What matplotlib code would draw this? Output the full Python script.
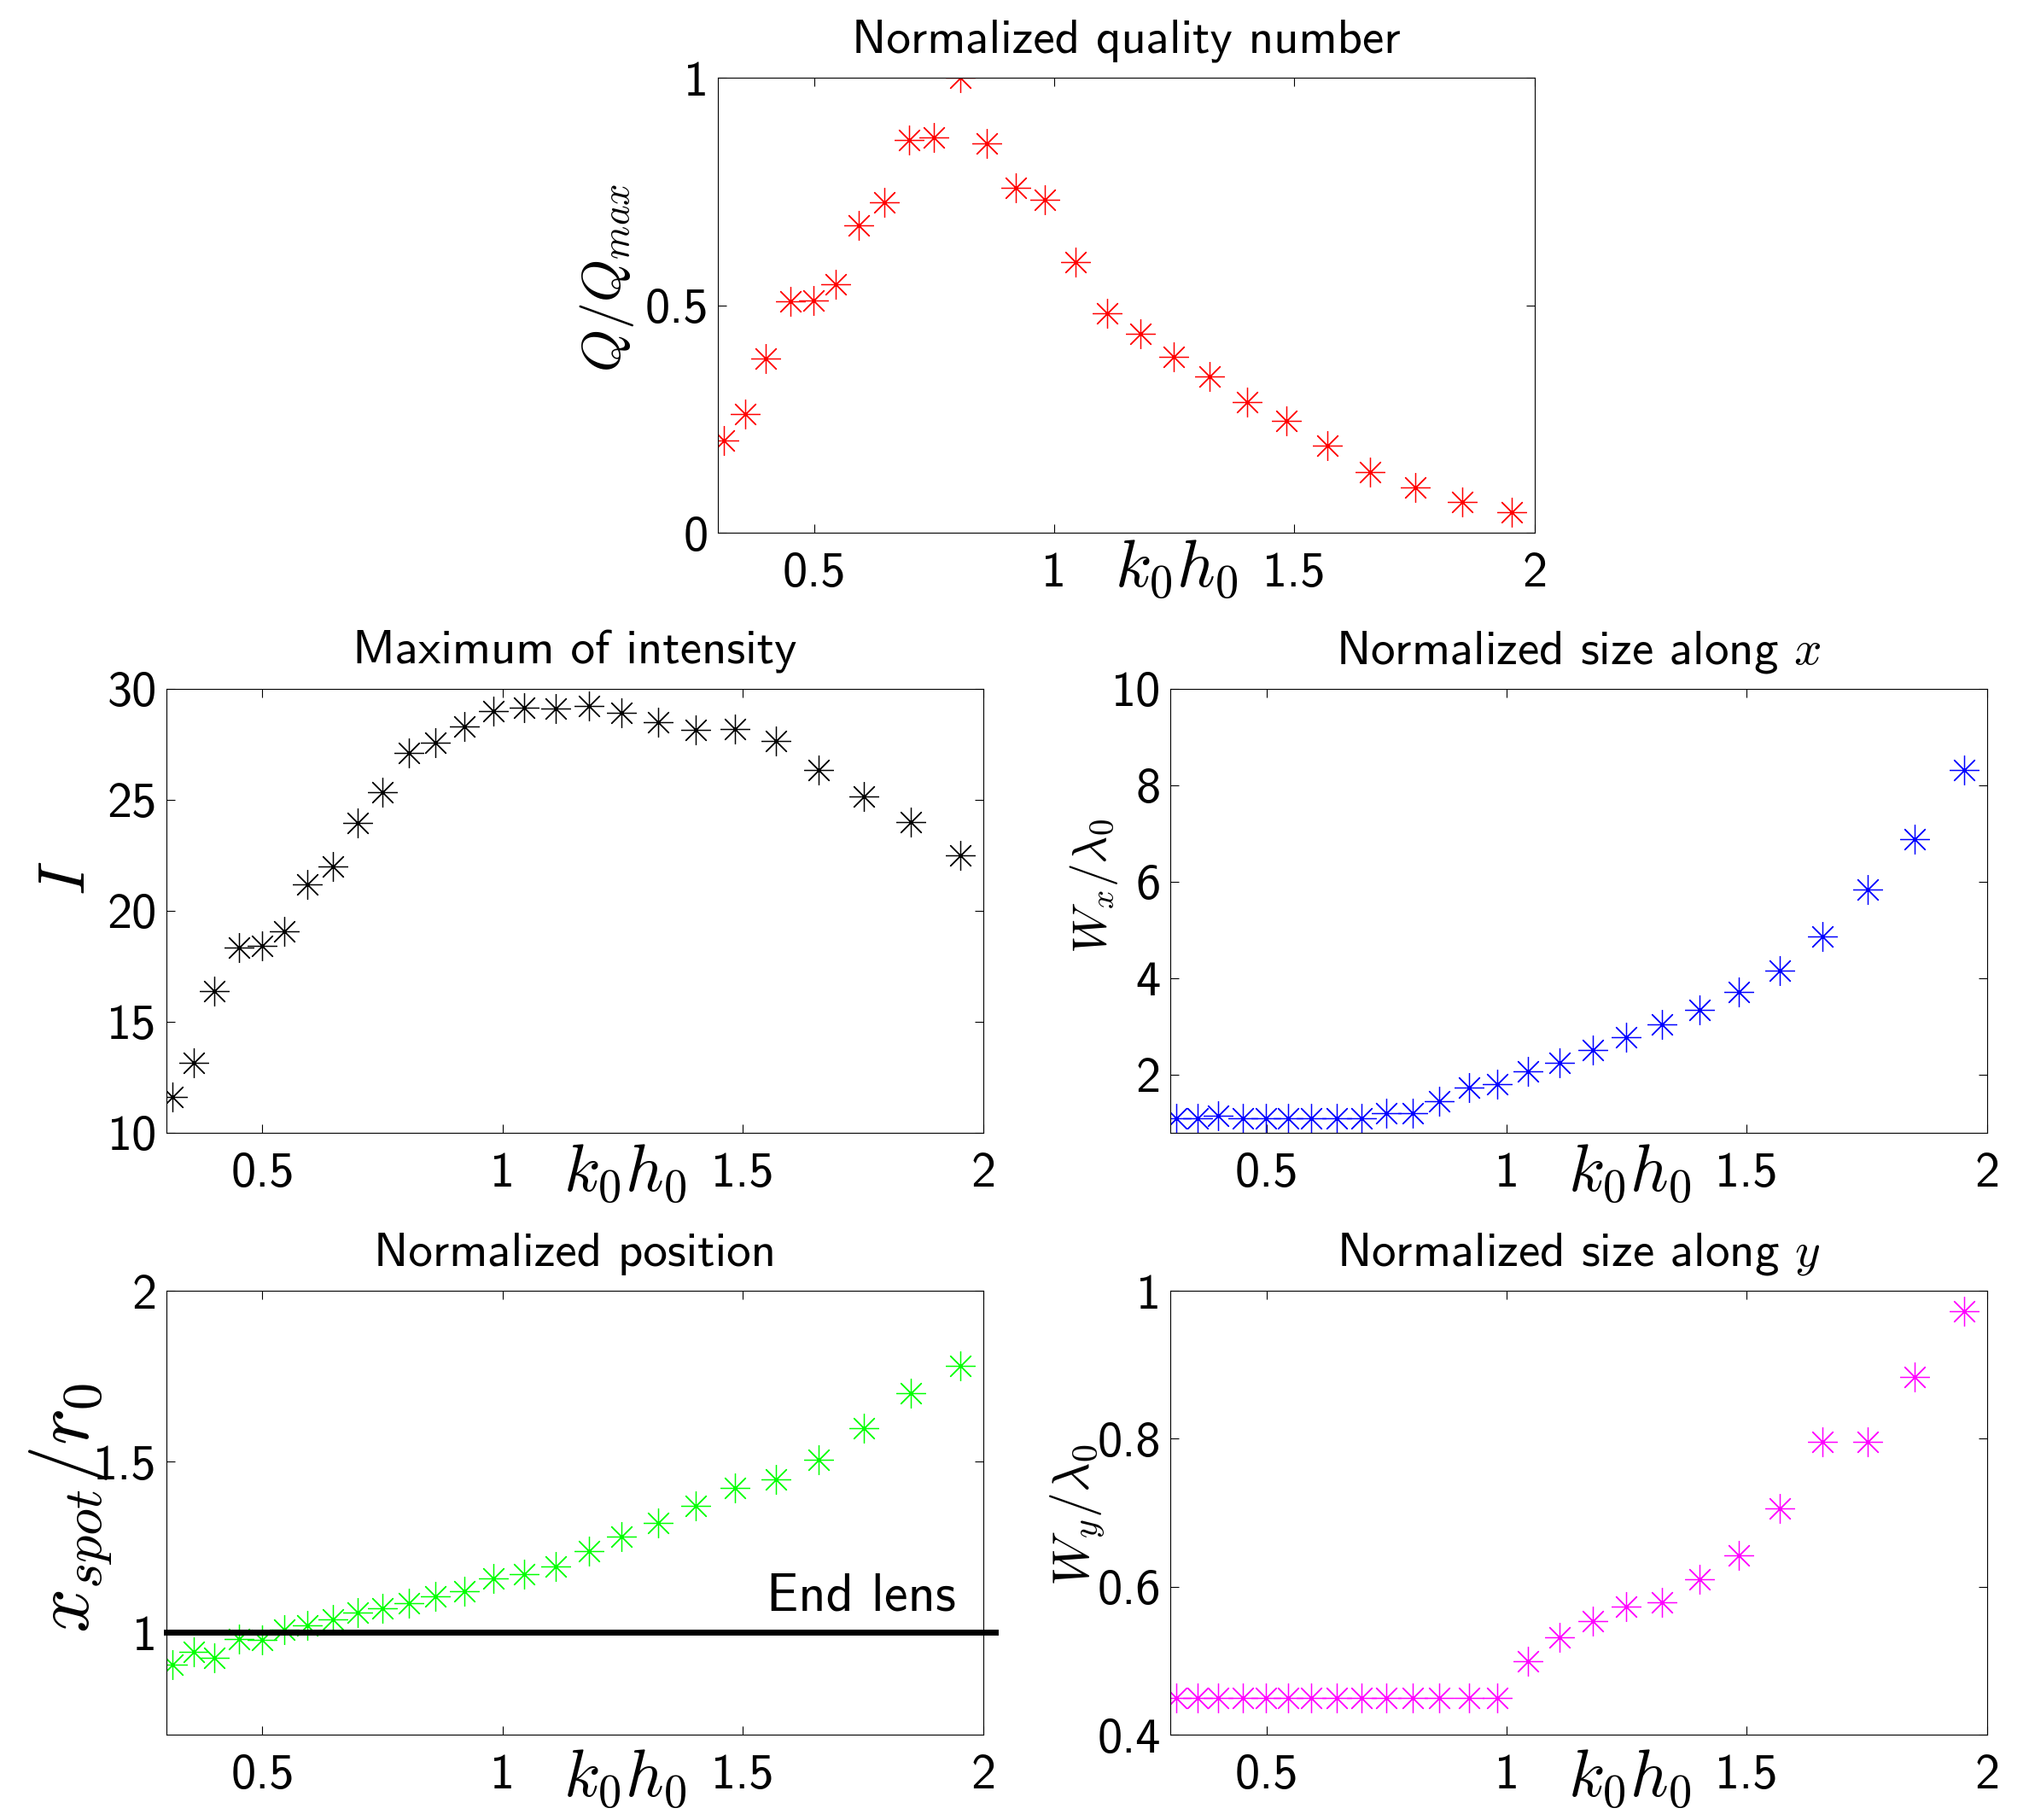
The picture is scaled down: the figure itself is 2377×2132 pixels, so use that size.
import matplotlib
matplotlib.use("Agg")
import matplotlib.pyplot as plt

plt.rcParams['font.family'] = ['cmss10', 'DejaVu Sans']
plt.rcParams['mathtext.fontset'] = 'cm'
plt.rcParams['axes.unicode_minus'] = False

# ---- data ----
k0h0 = [0.312, 0.357, 0.400, 0.451, 0.499, 0.546, 0.593, 0.647, 0.698, 0.749,
        0.804, 0.860, 0.921, 0.981, 1.044, 1.110, 1.180, 1.248, 1.323, 1.402,
        1.484, 1.569, 1.658, 1.751, 1.849, 1.952]

q_norm = [0.203, 0.260, 0.382, 0.509, 0.511, 0.546, 0.676, 0.726, 0.864, 0.869,
          1.000, 0.856, 0.758, 0.731, 0.594, 0.482, 0.438, 0.387, 0.344, 0.287,
          0.245, 0.192, 0.134, 0.100, 0.068, 0.046]

intensity = [11.60, 13.14, 16.37, 18.35, 18.44, 19.07, 21.20, 21.99, 23.97, 25.34,
             27.11, 27.56, 28.32, 29.00, 29.16, 29.12, 29.23, 28.94, 28.49, 28.14,
             28.18, 27.66, 26.36, 25.15, 24.00, 22.49]

wx = [1.09, 1.09, 1.15, 1.09, 1.09, 1.09, 1.09, 1.09, 1.09, 1.19,
      1.19, 1.45, 1.72, 1.79, 2.06, 2.25, 2.51, 2.77, 3.03, 3.34,
      3.72, 4.15, 4.86, 5.83, 6.89, 8.32]

xspot = [0.904, 0.943, 0.926, 0.980, 0.977, 1.007, 1.019, 1.037, 1.057, 1.071,
         1.085, 1.104, 1.121, 1.157, 1.169, 1.192, 1.238, 1.279, 1.321, 1.370,
         1.422, 1.447, 1.506, 1.598, 1.701, 1.779]

wy = [0.450, 0.450, 0.450, 0.450, 0.450, 0.450, 0.450, 0.450, 0.450, 0.450,
      0.450, 0.450, 0.450, 0.450, 0.4995, 0.532, 0.554, 0.573, 0.579, 0.610,
      0.642, 0.706, 0.796, 0.796, 0.883, 0.972]

end_lens_level = 1.0

x_ticks = [0.5, 1, 1.5, 2]
x_ticklabels = ['0.5', '1', '1.5', '2']

TICK_FS = 42
TITLE_FS = 41
XLABEL_FS = 56

fig = plt.figure(figsize=(23.77, 21.32), dpi=100)

W = 0.4025
H_TOP = 0.2500
H = 0.2439
axes_specs = [
    # left, bottom, height
    (0.3538, 0.7073, H_TOP),
    (0.0820, 0.3776, H),
    (0.5768, 0.3776, H),
    (0.0820, 0.0469, H),
    (0.5768, 0.0469, H),
]
axs = [fig.add_axes([l, b, W, h]) for (l, b, h) in axes_specs]

panels = [
    dict(y=q_norm, color=(1, 0, 0), title='Normalized quality number',
         ylabel=r'$Q/Q_{max}$', ylabel_fs=46, ylabel_pos=(-0.136, 0.561),
         ylim=(0, 1), yticks=[0, 0.5, 1], yticklabels=['0', '0.5', '1'],
         xlabel_y=-0.012),
    dict(y=intensity, color='black', title='Maximum of intensity',
         ylabel=r'$I$', ylabel_fs=55, ylabel_pos=(-0.12, 0.573),
         ylim=(10, 30), yticks=[10, 15, 20, 25, 30],
         yticklabels=['10', '15', '20', '25', '30'], xlabel_y=-0.022),
    dict(y=wx, color=(0, 0, 1), title=r'Normalized size along $x$',
         ylabel=r'$W_x/\lambda_0$', ylabel_fs=40, ylabel_pos=(-0.094, 0.556),
         ylim=(0.79, 10), yticks=[2, 4, 6, 8, 10],
         yticklabels=['2', '4', '6', '8', '10'], xlabel_y=-0.022),
    dict(y=xspot, color=(0, 1, 0), title='Normalized position',
         ylabel=r'$x_{spot}/r_0$', ylabel_fs=66, ylabel_pos=(-0.118, 0.51),
         ylim=(0.7, 2), yticks=[1, 1.5, 2], yticklabels=['1', '1.5', '2'],
         xlabel_y=-0.03),
    dict(y=wy, color=(1, 0, 1), title=r'Normalized size along $y$',
         ylabel=r'$W_y/\lambda_0$', ylabel_fs=43, ylabel_pos=(-0.114, 0.494),
         ylim=(0.4, 1), yticks=[0.4, 0.6, 0.8, 1],
         yticklabels=['0.4', '0.6', '0.8', '1'], xlabel_y=-0.03),
]

for ax, p in zip(axs, panels):
    ax.plot(k0h0, p['y'], linestyle='none', marker=(8, 2, 0), markersize=25,
            markeredgewidth=0.9, color=p['color'])
    ax.set_xlim(0.3, 2)
    ax.set_ylim(*p['ylim'])
    ax.set_xticks(x_ticks)
    ax.set_xticklabels(x_ticklabels)
    ax.set_yticks(p['yticks'])
    ax.set_yticklabels(p['yticklabels'])
    ax.tick_params(axis='both', direction='in', length=7, width=0.8,
                   labelsize=TICK_FS, top=True, right=True)
    ax.tick_params(axis='x', pad=16)
    ax.tick_params(axis='y', pad=8)
    for s in ax.spines.values():
        s.set_linewidth(0.8)
    ax.set_title(p['title'], fontsize=TITLE_FS, pad=21)
    ax.set_xlabel(r'$k_0h_0$', fontsize=XLABEL_FS, va='top', ha='center')
    ax.xaxis.set_label_coords(0.562, p['xlabel_y'])
    ax.set_ylabel(p['ylabel'], fontsize=p['ylabel_fs'], va='center', ha='center')
    ax.yaxis.set_label_coords(*p['ylabel_pos'])

# End lens line and text in the position panel
axp = axs[3]
axp.axhline(end_lens_level, xmin=0, xmax=1.015, color='black', linewidth=5,
            clip_on=False)
axp.text(1.943, 1.064, 'End lens', fontsize=45, ha='right', va='baseline')

fig.savefig('out.png', dpi=100, facecolor='white')
